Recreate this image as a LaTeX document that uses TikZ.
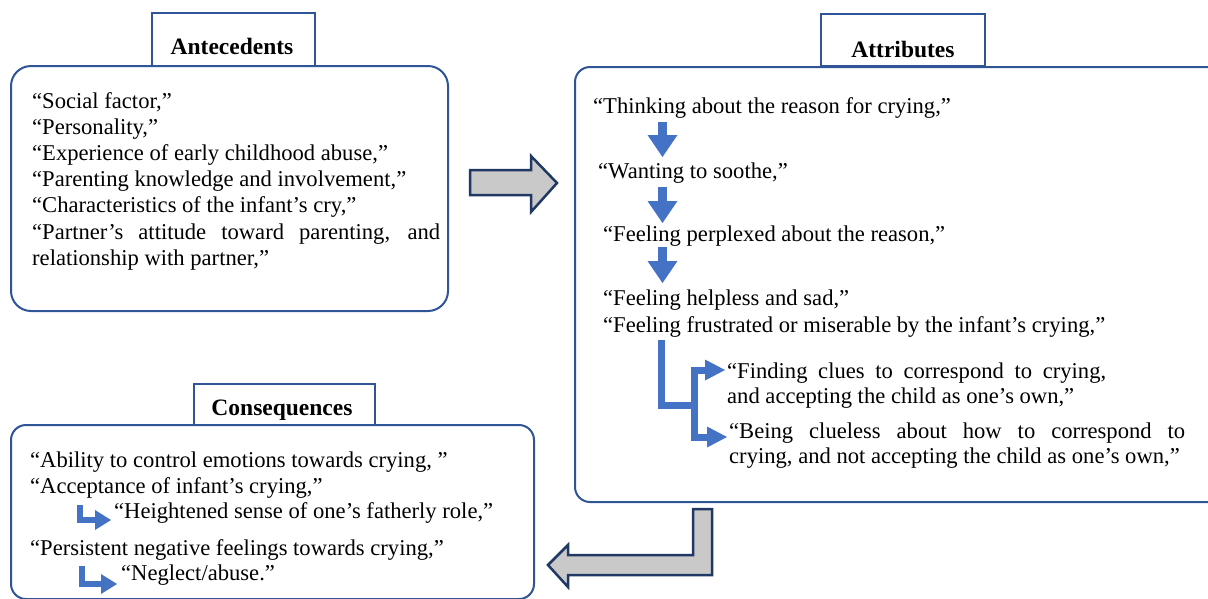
\documentclass[tikz,border=0pt]{standalone}
\usepackage{fontspec}
\setmainfont{Liberation Serif}
\usetikzlibrary{arrows.meta}
\definecolor{boxblue}{HTML}{2F5597}
\definecolor{arrblue}{HTML}{4472C4}
\definecolor{grayfill}{HTML}{C9C9C9}
\definecolor{grayline}{HTML}{203864}
\begin{document}
\begin{tikzpicture}[x=1pt,y=-1pt,
  mainbox/.style={draw=boxblue, line width=2pt, fill=white, inner sep=0pt},
  titlebox/.style={draw=boxblue, line width=2.2pt, fill=white, inner sep=0pt},
  txt/.style={anchor=base west, inner sep=0pt, font=\fontsize{22.6pt}{27pt}\selectfont},
  ttl/.style={anchor=base, inner sep=0pt, font=\fontsize{23.5pt}{28pt}\selectfont\bfseries},
  downarr/.style={draw=arrblue, line width=9pt, -{Triangle[width=30pt,length=22pt,line width=0pt]}},
  larrow/.style={draw=arrblue, line width=6pt, line join=miter, -{Triangle[width=20pt,length=16pt,line width=0pt]}},
  brline/.style={draw=arrblue, line width=7pt, line join=miter},
  brarrow/.style={brline, -{Triangle[width=21pt,length=20pt,line width=0pt]}},
  grayarrow/.style={fill=grayfill, draw=grayline, line width=2.5pt, line join=miter}
]
\useasboundingbox (0,0) rectangle (1208,598);
\clip (0,0) rectangle (1208,598);

% ---------- Antecedents ----------
\node[mainbox, rounded corners=20pt, minimum width=437pt, minimum height=245pt] (antbox) at (229.5,188.5) {};
\node[titlebox, minimum width=163pt, minimum height=53pt] (anttitle) at (233.5,39.5) {};
\node[ttl] (antlabel) at (232,54) {Antecedents};
\node[txt] (a1) at (32,108) {“Social factor,”};
\node[txt] (a2) at (32,134.2) {“Personality,”};
\node[txt] (a3) at (32,160.4) {“Experience of early childhood abuse,”};
\node[txt] (a4) at (32,186.6) {“Parenting knowledge and involvement,”};
\node[txt] (a5) at (32,212.8) {“Characteristics of the infant’s cry,”};
\node[txt] (a6) at (32,239) {\makebox[408pt][s]{“Partner’s attitude toward parenting, and}};
\node[txt] (a7) at (32,265.2) {relationship with partner,”};

% ---------- Arrow Antecedents -> Attributes ----------
\filldraw[grayarrow] (470,170) -- (531,170) -- (531,156) -- (557,183) -- (531,212) -- (531,195) -- (470,195) -- cycle;

% ---------- Attributes ----------
\node[mainbox, rounded corners=15pt, minimum width=665pt, minimum height=435pt] (attbox) at (907.5,284.5) {};
\node[titlebox, minimum width=164pt, minimum height=52pt] (atttitle) at (903,40) {};
\node[ttl] (attlabel) at (903,57) {Attributes};
\node[txt] (t1) at (593,113) {“Thinking about the reason for crying,”};
\node[txt] (t2) at (598,178) {“Wanting to soothe,”};
\node[txt] (t3) at (603,241) {“Feeling perplexed about the reason,”};
\node[txt] (t4) at (603,305) {“Feeling helpless and sad,”};
\node[txt] (t5) at (603,332) {“Feeling frustrated or miserable by the infant’s crying,”};
\node[txt] (f1) at (727,378) {\makebox[379pt][s]{“Finding clues to correspond to crying,}};
\node[txt] (f1b) at (727,403) {and accepting the child as one’s own,”};
\node[txt] (f2) at (729,438) {\makebox[456pt][s]{“Being clueless about how to correspond to}};
\node[txt] (f2b) at (729,463) {crying, and not accepting the child as one’s own,”};

\coordinate (d1s) at (662.5,122); \coordinate (d1e) at (662.5,157);
\coordinate (d2s) at (662.5,187); \coordinate (d2e) at (662.5,223);
\coordinate (d3s) at (662.5,247); \coordinate (d3e) at (662.5,283);
\draw[downarr] (d1s) -- (d1e);
\draw[downarr] (d2s) -- (d2e);
\draw[downarr] (d3s) -- (d3e);

\coordinate (b0) at (661,340);
\coordinate (bj) at (694,405);
\coordinate (bt1) at (725,370);
\coordinate (bt2) at (727,437);
\draw[brline] (b0) |- (bj);
\draw[brarrow] (bj) |- (bt1);
\draw[brarrow] (bj) |- (bt2);

% ---------- Arrow Attributes -> Consequences ----------
\filldraw[grayarrow] (693,509) -- (712,509) -- (712,575) -- (568,575) -- (568,587) -- (548,565) -- (568,545) -- (568,555) -- (693,555) -- cycle;

% ---------- Consequences ----------
\node[mainbox, rounded corners=15pt, minimum width=523pt, minimum height=174pt] (conbox) at (272.5,512) {};
\node[titlebox, minimum width=181pt, minimum height=41pt] (contitle) at (284.5,404.5) {};
\node[ttl] (conlabel) at (282,415) {Consequences};
\node[txt] (c1) at (30,467) {“Ability to control emotions towards crying, ”};
\node[txt] (c2) at (30,493) {“Acceptance of infant’s crying,”};
\node[txt] (c3) at (114,518) {“Heightened sense of one’s fatherly role,”};
\node[txt] (c4) at (30,555) {“Persistent negative feelings towards crying,”};
\node[txt] (c5) at (121,580) {“Neglect/abuse.”};

\coordinate (l1s) at (80,505); \coordinate (l1e) at (111,520);
\coordinate (l2s) at (82,566); \coordinate (l2e) at (117,584);
\draw[larrow] (l1s) |- (l1e);
\draw[larrow] (l2s) |- (l2e);
\end{tikzpicture}
\end{document}
